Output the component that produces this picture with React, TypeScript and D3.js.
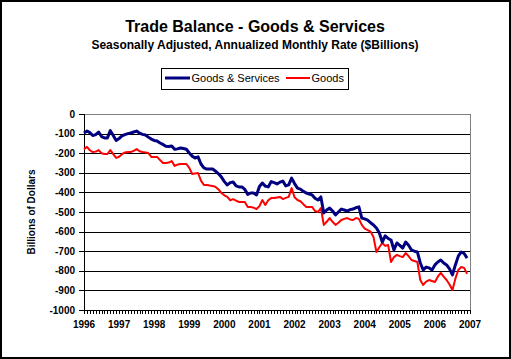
import React from "react";
import * as d3 from "d3";

const years = ["1996","1997","1998","1999","2000","2001","2002","2003","2004","2005","2006","2007"];
const yTicks = [0,-100,-200,-300,-400,-500,-600,-700,-800,-900,-1000];

// Monthly, Jan 1996 .. Dec 2006 (annualized, $ billions)
const goodsServices = [
  -97,-87,-95,-110,-105,-92,-115,-122,-122,-85,-110,-135,
  -125,-112,-105,-100,-97,-92,-87,-98,-104,-107,-118,-128,
  -135,-138,-148,-155,-165,-166,-163,-180,-178,-173,-176,-180,
  -199,-215,-225,-219,-255,-275,-281,-280,-281,-292,-305,-322,
  -345,-362,-350,-347,-367,-372,-372,-385,-410,-403,-403,-413,
  -370,-352,-368,-372,-345,-350,-357,-348,-342,-367,-362,-327,
  -355,-378,-383,-395,-403,-408,-413,-430,-439,-423,-505,-490,
  -480,-495,-515,-500,-485,-490,-495,-488,-485,-478,-474,-531,
  -535,-541,-555,-566,-582,-607,-653,-622,-635,-643,-694,-658,
  -670,-684,-653,-670,-694,-700,-704,-760,-796,-781,-785,-796,
  -770,-755,-745,-760,-770,-790,-821,-770,-725,-704,-712,-735
];
const goods = [
  -179,-168,-185,-194,-192,-184,-200,-204,-204,-184,-205,-224,
  -218,-205,-196,-194,-194,-188,-179,-190,-194,-196,-199,-219,
  -219,-219,-235,-250,-250,-248,-240,-265,-258,-255,-255,-255,
  -275,-306,-303,-301,-340,-362,-362,-365,-367,-372,-385,-403,
  -415,-423,-440,-434,-442,-449,-449,-449,-474,-474,-478,-485,
  -470,-439,-464,-440,-429,-429,-426,-423,-434,-428,-423,-378,
  -425,-439,-445,-460,-474,-474,-474,-495,-500,-480,-566,-550,
  -531,-550,-566,-555,-541,-535,-531,-538,-541,-531,-535,-566,
  -585,-592,-600,-628,-704,-680,-658,-673,-668,-755,-730,-719,
  -725,-730,-709,-725,-745,-750,-755,-847,-872,-855,-847,-852,
  -857,-830,-811,-830,-847,-870,-898,-840,-796,-781,-785,-816
];

const W = 511, H = 359;
const left = 84, right = 470, top = 114, bottom = 310;
const FONT = "'Liberation Sans', Arial, sans-serif";

export default function App() {
  const x = d3.scaleLinear().domain([0, 132]).range([left, right]);
  const y = d3.scaleLinear().domain([-1000, 0]).range([bottom, top]);
  const line = d3.line<number>().x((_, i) => x(i)).y(d => y(d));
  const monthTicks = d3.range(0, 133);
  return (
    <svg width={W} height={H} style={{ position: "absolute", left: 0, top: 0, background: "#fff" }} fontFamily={FONT}>
      <rect x={1} y={1} width={W - 2} height={H - 2} fill="#fff" stroke="#000" strokeWidth={2} />
      <text x={255} y={31.5} textAnchor="middle" fontSize={16} fontWeight="bold">Trade Balance - Goods &amp; Services</text>
      <text x={255} y={49} textAnchor="middle" fontSize={12} fontWeight="bold">Seasonally Adjusted, Annualized Monthly Rate ($Billions)</text>
      {/* legend */}
      <rect x={161.5} y={68.5} width={187} height={21} fill="#fff" stroke="#000" strokeWidth={1} />
      <line x1={165} x2={190} y1={78} y2={78} stroke="#000080" strokeWidth={3} />
      <text x={191.5} y={82} fontSize={11}>Goods &amp; Services</text>
      <line x1={286} x2={310} y1={78} y2={78} stroke="#ff0000" strokeWidth={2} />
      <text x={311.5} y={82} fontSize={11}>Goods</text>
      {/* grid */}
      {yTicks.filter(v => v !== 0 && v !== -1000).map(v => (
        <line key={v} x1={left} x2={right} y1={Math.round(y(v)) + 0.5} y2={Math.round(y(v)) + 0.5} stroke="#000" strokeWidth={1} />
      ))}
      <rect x={left + 0.5} y={top + 0.5} width={right - left} height={bottom - top} fill="none" stroke="#808080" strokeWidth={1} />
      <line x1={left + 0.5} x2={left + 0.5} y1={top} y2={bottom + 1} stroke="#000" />
      <line x1={left} x2={right + 1} y1={bottom + 0.5} y2={bottom + 0.5} stroke="#000" />
      {yTicks.map(v => (
        <g key={v}>
          <line x1={left - 5} x2={left} y1={Math.round(y(v)) + 0.5} y2={Math.round(y(v)) + 0.5} stroke="#000" />
          <text x={75} y={y(v) + 3.5} textAnchor="end" fontSize={10} fontWeight="bold">{v}</text>
        </g>
      ))}
      {monthTicks.map(i => (
        <line key={i} x1={Math.round(x(i)) + 0.5} x2={Math.round(x(i)) + 0.5} y1={bottom} y2={bottom + 4} stroke="#000" />
      ))}
      {years.map((yr, i) => (
        <text key={yr} x={x(i * 12)} y={328} textAnchor="middle" fontSize={10} fontWeight="bold">{yr}</text>
      ))}
      <text transform={`translate(35,${(top + bottom) / 2}) rotate(-90)`} textAnchor="middle" fontSize={10} fontWeight="bold">Billions of Dollars</text>
      <path d={line(goods) || ""} fill="none" stroke="#ff0000" strokeWidth={2} strokeLinejoin="round" />
      <path d={line(goodsServices) || ""} fill="none" stroke="#000080" strokeWidth={3} strokeLinejoin="round" />
    </svg>
  );
}
